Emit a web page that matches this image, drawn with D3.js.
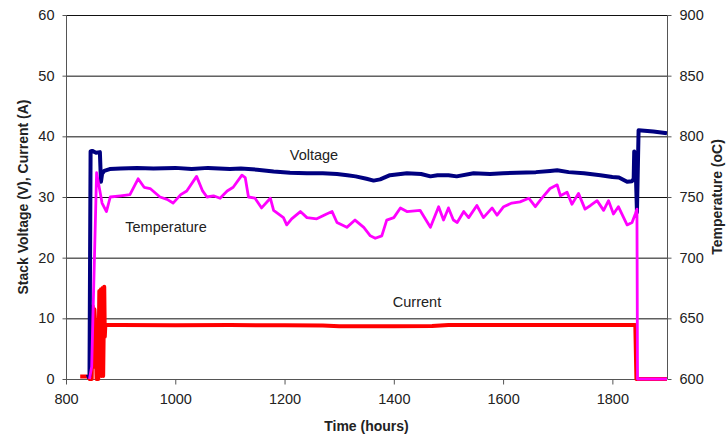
<!DOCTYPE html>
<html>
<head>
<meta charset="utf-8">
<script src="https://cdn.jsdelivr.net/npm/d3@7"></script>
<style>
  body { margin: 0; background: #fff; }
  text { font-family: "Liberation Sans", Arial, sans-serif; fill: #222; }
</style>
</head>
<body>
<div id="graphWrapper"></div>
<script>
// tick values
var timeTicks = [800, 1000, 1200, 1400, 1600, 1800];
var leftTicks = [0, 10, 20, 30, 40, 50, 60];
var rightTicks = [600, 650, 700, 750, 800, 850, 900];

// [time (h), stack voltage (V)]
var voltage = [
  [838, 0.3], [843, 0.5], [845, 37.5], [848, 37.6], [855, 37.3], [862, 37.4],
  [864, 32.5], [866, 33.8], [870, 34.3], [880, 34.6], [900, 34.7], [930, 34.8],
  [960, 34.7], [1000, 34.8], [1030, 34.6], [1060, 34.8], [1100, 34.6], [1120, 34.7],
  [1150, 34.5], [1180, 34.2], [1210, 34.0], [1241, 33.9], [1270, 33.9], [1296, 33.8],
  [1315, 33.6], [1330, 33.4], [1350, 33.0], [1363, 32.7], [1375, 32.9], [1393, 33.6],
  [1424, 33.9], [1450, 33.8], [1467, 33.4], [1480, 33.6], [1500, 33.6], [1515, 33.4],
  [1546, 33.9], [1576, 33.8], [1600, 33.9], [1625, 34.0], [1660, 34.1], [1686, 34.3],
  [1699, 34.4], [1720, 34.1], [1748, 33.9], [1778, 33.6], [1800, 33.3], [1812, 33.2],
  [1827, 32.5], [1836, 32.6], [1839, 33.0], [1840, 37.5], [1842, 37.0], [1845, 27.5],
  [1848, 41.0], [1875, 40.8], [1900, 40.5]
];

// [time (h), temperature (oC)]
var temperature = [
  [843, 600], [847, 610], [856, 770], [866, 745], [874, 738], [881, 750], [900, 751],
  [917, 752], [932, 765], [943, 758], [954, 757], [972, 750], [985, 748], [996, 745],
  [1010, 752], [1021, 755], [1039, 767], [1050, 755], [1058, 750], [1070, 751],
  [1082, 749], [1095, 755], [1106, 758], [1122, 768], [1128, 766], [1134, 750],
  [1146, 749], [1158, 741], [1174, 749], [1180, 739], [1198, 733], [1204, 727],
  [1213, 732], [1229, 738], [1241, 733], [1259, 732], [1277, 736], [1287, 738],
  [1296, 729], [1314, 725], [1329, 731], [1345, 725], [1357, 718], [1366, 716],
  [1378, 718], [1387, 731], [1400, 733], [1412, 741], [1424, 738], [1448, 739],
  [1467, 725], [1482, 742], [1491, 731], [1500, 741], [1509, 731], [1516, 729],
  [1528, 738], [1537, 733], [1552, 743], [1564, 733], [1580, 741], [1589, 735],
  [1601, 742], [1616, 745], [1631, 746], [1647, 749], [1659, 742], [1671, 749],
  [1686, 757], [1699, 760], [1705, 751], [1717, 754], [1726, 744], [1738, 753],
  [1750, 740], [1760, 743], [1772, 747], [1784, 739], [1793, 747], [1802, 736],
  [1811, 742], [1827, 727], [1836, 729], [1842, 736], [1845, 740], [1846, 600],
  [1900, 600]
];

// [time (h), current (A)]
var current = [
  [826, 0.4], [840, 0.4], [843, 0], [847, 0], [849, 12], [851, 2], [852, 11.5],
  [854, 8], [856, 0], [859, 0], [861, 14.5], [862, 0.5], [864, 14.8], [865, 0.5],
  [867, 15], [868, 0.5], [870, 15.2], [871, 7], [872, 8.9], [900, 8.9], [1000, 8.85],
  [1100, 8.9], [1200, 8.85], [1270, 8.8], [1300, 8.7], [1400, 8.7], [1470, 8.75],
  [1500, 8.9], [1600, 8.9], [1700, 8.9], [1800, 8.9], [1842, 8.9], [1844, 0],
  [1900, 0]
];

var w = 727;
var h = 440;
var margin = { top: 15, bottom: 61, left: 66, right: 60 };

var svg = d3.select("#graphWrapper").append("svg")
    .attr("width", w)
    .attr("height", h);

var x = d3.scaleLinear()
    .domain([800, 1900])
    .range([margin.left, w - margin.right]);
var yLeft = d3.scaleLinear()
    .domain([0, 60])
    .range([h - margin.bottom, margin.top]);
var yRight = d3.scaleLinear()
    .domain([600, 900])
    .range([h - margin.bottom, margin.top]);

// gridlines
svg.append("g")
    .selectAll("line")
    .data(leftTicks.slice(1))
    .enter()
    .append("line")
    .attr("x1", x(800))
    .attr("x2", x(1900))
    .attr("y1", function(d){ return yLeft(d) + 0.5; })
    .attr("y2", function(d){ return yLeft(d) + 0.5; })
    .attr("stroke", "#111")
    .attr("stroke-width", 1);

// axes
var xAxis = d3.axisBottom(x).tickValues(timeTicks).tickFormat(d3.format("d")).tickSize(5).tickPadding(9);
var yAxis = d3.axisLeft(yLeft).tickValues(leftTicks).tickFormat(d3.format("d")).tickSize(4).tickPadding(8);
var yAxisRight = d3.axisRight(yRight).tickValues(rightTicks).tickFormat(d3.format("d")).tickSize(4).tickPadding(8);

function styleAxis(g){
    g.selectAll("path").attr("stroke", "#555");
    g.selectAll("line").attr("stroke", "#555");
    g.selectAll("text")
        .attr("fill", "#222")
        .style("font-family", "'Liberation Sans', Arial, sans-serif")
        .style("font-size", "14.5px");
}

svg.append("g")
    .attr("transform", "translate(0," + (yLeft(0) + 0.5) + ")")
    .call(xAxis)
    .call(function(g){ g.select(".domain").attr("d", "M" + x(800) + ",0H" + x(1900)); })
    .call(styleAxis);
svg.append("g")
    .attr("transform", "translate(" + (x(800) + 0.5) + ",0)")
    .call(yAxis)
    .call(function(g){ g.select(".domain").attr("d", "M0," + yLeft(60) + "V" + yLeft(0)); })
    .call(styleAxis);
svg.append("g")
    .attr("transform", "translate(" + (x(1900) + 0.5) + ",0)")
    .call(yAxisRight)
    .call(function(g){ g.select(".domain").attr("d", "M0," + yRight(900) + "V" + yRight(600)); })
    .call(styleAxis);

// series
var lineLeft = d3.line()
    .x(function(d){ return x(d[0]); })
    .y(function(d){ return yLeft(d[1]); });
var lineRight = d3.line()
    .x(function(d){ return x(d[0]); })
    .y(function(d){ return yRight(d[1]); });

svg.append("path")
    .attr("d", lineLeft(current))
    .attr("fill", "none")
    .attr("stroke", "#ff0000")
    .attr("stroke-width", 4)
    .attr("stroke-linejoin", "round");
svg.append("path")
    .attr("d", lineLeft(voltage))
    .attr("fill", "none")
    .attr("stroke", "#000080")
    .attr("stroke-width", 4)
    .attr("stroke-linejoin", "round");
svg.append("path")
    .attr("d", lineRight(temperature))
    .attr("fill", "none")
    .attr("stroke", "#ff00ff")
    .attr("stroke-width", 2.8)
    .attr("stroke-linejoin", "round");

// series labels
svg.append("text").attr("x", 314).attr("y", 160)
    .attr("text-anchor", "middle").style("font-size", "14.5px").text("Voltage");
svg.append("text").attr("x", 166).attr("y", 232)
    .attr("text-anchor", "middle").style("font-size", "14.5px").text("Temperature");
svg.append("text").attr("x", 417).attr("y", 307)
    .attr("text-anchor", "middle").style("font-size", "14.5px").text("Current");

// axis titles
svg.append("text")
    .attr("transform", "translate(" + (x(800) + x(1900)) / 2 + ",431)")
    .attr("text-anchor", "middle")
    .style("font-size", "14px").style("font-weight", "bold")
    .text("Time (hours)");
svg.append("text")
    .attr("transform", "translate(28," + (yLeft(30)) + ") rotate(-90)")
    .attr("text-anchor", "middle")
    .style("font-size", "14px").style("font-weight", "bold")
    .text("Stack Voltage (V), Current (A)");
svg.append("text")
    .attr("transform", "translate(722," + (yLeft(30)) + ") rotate(-90)")
    .attr("text-anchor", "middle")
    .style("font-size", "14px").style("font-weight", "bold")
    .text("Temperature (oC)");
</script>
</body>
</html>
